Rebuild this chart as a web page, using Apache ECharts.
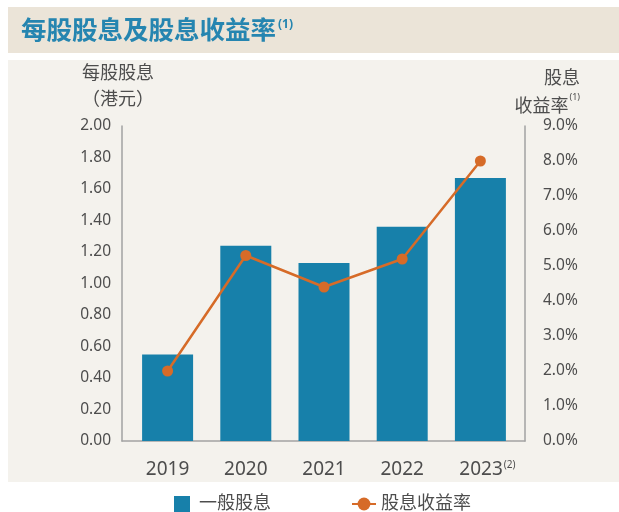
<!DOCTYPE html>
<html>
<head>
<meta charset="utf-8">
<script src="https://cdn.jsdelivr.net/npm/echarts@6/dist/echarts.min.js"></script>
<style>
  html, body { margin: 0; padding: 0; background: #fff; }
  #main { width: 619px; height: 512px; }
</style>
</head>
<body>
<div id="main"></div>
<script>
var years = ['2019', '2020', '2021', '2022', '2023'];
var dividend = [0.55, 1.24, 1.13, 1.36, 1.67];      // 一般股息 (港元)
var yieldPct = [2.0, 5.3, 4.4, 5.2, 8.0];            // 股息收益率 (%)
var leftTicks = { min: 0, max: 2, step: 0.2 };
var rightTicks = { min: 0, max: 9, step: 1 };

var font = '"Noto Sans", "Noto Sans CJK TC", sans-serif';
var textColor = '#4d4d4d';
var barColor = '#1780aa';
var lineColor = '#d66b28';
var axisColor = '#a2a2a2';

var dom = document.getElementById('main');
var myChart = echarts.init(dom, null, { renderer: 'canvas' });

var option = {
    backgroundColor: '#fff',
    animation: false,
    graphic: [
        { type: 'rect', z: -10, shape: { x: 8, y: 7, width: 611, height: 46 }, style: { fill: '#ebe4d8' } },
        { type: 'rect', z: -10, shape: { x: 8, y: 60, width: 611, height: 422 }, style: { fill: '#f4f2ed' } }
    ],
    title: [
        {
            text: '每股股息及股息收益率{sup|(1)}',
            left: 21, top: 19, padding: 0,
            textStyle: {
                fontFamily: font, fontSize: 25.5, fontWeight: 'bold', color: '#2585b0',
                rich: { sup: { fontFamily: font, fontSize: 12, fontWeight: 'bold', color: '#2585b0', verticalAlign: 'top', padding: [0, 0, 12, 2] } }
            }
        },
        {
            text: '每股股息\n（港元）',
            left: 82, top: 61, padding: 0,
            textStyle: { fontFamily: font, fontSize: 18, fontWeight: 'normal', color: textColor, lineHeight: 26 }
        },
        {
            text: '股息\n收益率{sup|(1)}',
            left: 580, top: 65, padding: 0,
            textAlign: 'right',
            textStyle: {
                fontFamily: font, fontSize: 18, fontWeight: 'normal', color: textColor, lineHeight: 28, align: 'right',
                rich: { sup: { fontFamily: font, fontSize: 9, color: textColor, verticalAlign: 'top', padding: [0, 0, 10, 1] } }
            }
        }
    ],
    legend: {
        left: 174, top: 495, padding: 0,
        itemWidth: 24, itemHeight: 16, itemGap: 80,
        textStyle: { fontFamily: font, fontSize: 18, color: textColor },
        data: [
            { name: '一般股息', icon: 'path://M0,0H16V16H0Z' },
            { name: '股息收益率' }
        ]
    },
    grid: [
        { left: 122, right: 94, top: 126, bottom: 71 },
        { left: 128.5, right: 99.5, top: 126, bottom: 71 }
    ],
    xAxis: [
        {
            gridIndex: 0, type: 'value', min: 0, max: 1,
            axisLine: { show: true, lineStyle: { color: axisColor, width: 1.5 } },
            axisTick: { show: false }, axisLabel: { show: false }, splitLine: { show: false }
        },
        {
            gridIndex: 1, type: 'category', data: years,
            axisLine: { show: false }, axisTick: { show: false },
            axisLabel: {
                interval: 0, margin: 19, fontFamily: font, fontSize: 19, color: textColor,
                formatter: function (v) {
                    return v === '2023' ? '{pad|}' + v + '{sup|(2)}' : v;
                },
                rich: {
                    pad: { width: 14 },
                    sup: { fontFamily: font, fontSize: 10, color: textColor, verticalAlign: 'top', padding: [0, 0, 10, 1] }
                }
            }
        }
    ],
    yAxis: [
        {
            gridIndex: 0, type: 'value', position: 'left',
            min: leftTicks.min, max: leftTicks.max, interval: leftTicks.step,
            axisLine: { show: true, lineStyle: { color: axisColor, width: 1.5 } },
            axisTick: { show: false }, splitLine: { show: false },
            axisLabel: {
                margin: 11, fontFamily: font, fontSize: 15.5, color: textColor,
                formatter: function (v) { return v.toFixed(2); }
            }
        },
        {
            gridIndex: 0, type: 'value', position: 'right',
            min: rightTicks.min, max: rightTicks.max, interval: rightTicks.step,
            axisLine: { show: true, lineStyle: { color: axisColor, width: 1.5 } },
            axisTick: { show: false }, splitLine: { show: false },
            axisLabel: {
                margin: 18, fontFamily: font, fontSize: 15.5, color: textColor,
                formatter: function (v) { return v.toFixed(1) + '%'; }
            }
        },
        {
            gridIndex: 1, type: 'value', show: false,
            min: leftTicks.min, max: leftTicks.max
        },
        {
            gridIndex: 1, type: 'value', show: false,
            min: rightTicks.min, max: rightTicks.max
        }
    ],
    series: [
        {
            name: '一般股息', type: 'bar',
            xAxisIndex: 1, yAxisIndex: 2,
            barWidth: 51,
            itemStyle: { color: barColor },
            data: dividend
        },
        {
            name: '股息收益率', type: 'line',
            xAxisIndex: 1, yAxisIndex: 3,
            symbol: 'circle', symbolSize: 11,
            lineStyle: { color: lineColor, width: 2.5 },
            itemStyle: { color: lineColor },
            data: yieldPct
        }
    ]
};

if (option && typeof option === "object") {
    myChart.setOption(option, true);
}
</script>
</body>
</html>
